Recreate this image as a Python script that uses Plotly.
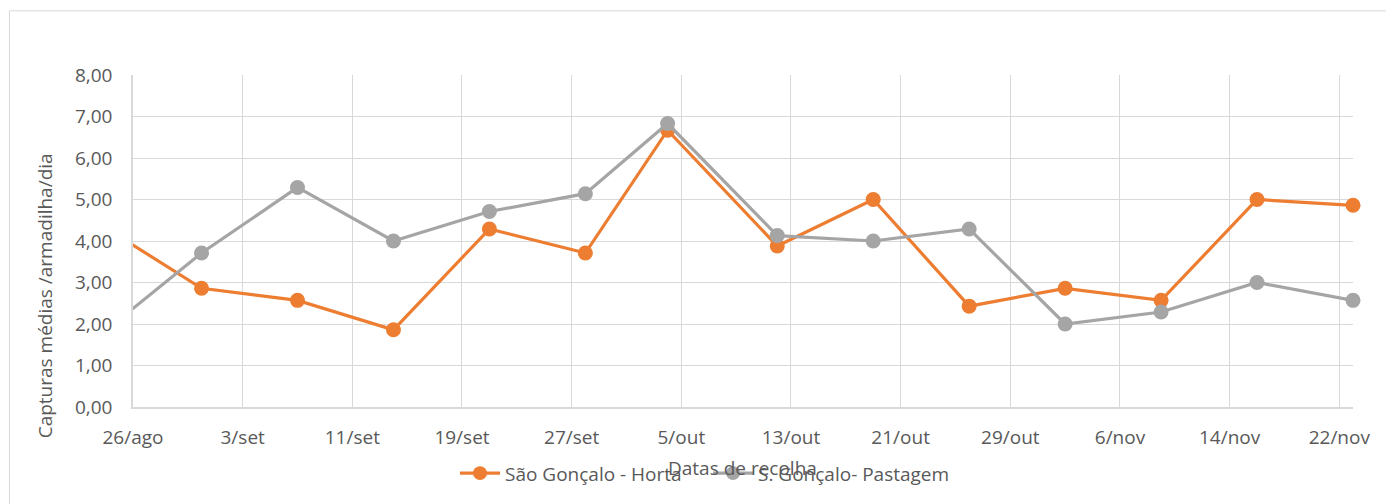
import plotly.graph_objects as go
import pandas as pd

# ---- data ----
dates = ["2023-08-24", "2023-08-31", "2023-09-07", "2023-09-14", "2023-09-21",
         "2023-09-28", "2023-10-04", "2023-10-12", "2023-10-19", "2023-10-26",
         "2023-11-02", "2023-11-09", "2023-11-16", "2023-11-23"]
horta = [4.32, 2.86, 2.57, 1.86, 4.29, 3.71, 6.67, 3.88, 5.00, 2.43, 2.86, 2.57, 5.00, 4.86]
pastagem = [1.84, 3.71, 5.29, 4.00, 4.71, 5.14, 6.83, 4.13, 4.00, 4.29, 2.00, 2.29, 3.00, 2.57]
series_names = ["São Gonçalo - Horta", "S. Gonçalo- Pastagem"]
tick_labels = ["26/ago", "3/set", "11/set", "19/set", "27/set", "5/out", "13/out",
               "21/out", "29/out", "6/nov", "14/nov", "22/nov"]
x_start, x_end = "2023-08-26", "2023-11-23"

# ---- style ----
ORANGE = "#ED7D31"
GRAY = "#A5A5A5"
TXT = "#595959"
GRID = "#D9D9D9"
FONT = "Open Sans"
MS = 15

tickvals = pd.date_range(x_start, periods=len(tick_labels), freq="8D")
sizes = [0 if pd.Timestamp(d) < pd.Timestamp(x_start) else MS for d in dates]

fig = go.Figure()
for name, vals, col in [(series_names[0], horta, ORANGE), (series_names[1], pastagem, GRAY)]:
    fig.add_trace(go.Scatter(
        x=dates, y=vals, name=name, mode="lines+markers",
        line=dict(color=col, width=3.2),
        marker=dict(color=col, size=sizes, opacity=1, line=dict(width=0)),
        cliponaxis=False,
    ))

# page body has an 8px margin -> figure is drawn 8px right/down
OFF = 8
W, H = 1394 - OFF, 504 - OFF
PL, PT = 133, 74.7          # plot-area left/top in page pixels
PW, PH = 1220, 332          # plot-area size
L, T = PL - OFF, PT - OFF
R = W - L - PW
B = H - T - PH

def px(xp):
    return (xp - PL) / PW

def py(yp):
    return (PT + PH - yp) / PH

fig.update_layout(
    width=W, height=H,
    margin=dict(l=L, r=R, t=T, b=B),
    paper_bgcolor="white", plot_bgcolor="white",
    separators=",.",
    font=dict(family=FONT, size=19, color=TXT),
    showlegend=True,
    legend=dict(orientation="h", x=px(455), xanchor="left", y=py(473), yanchor="middle",
                font=dict(family=FONT, size=19, color=TXT), bgcolor="rgba(0,0,0,0)",
                entrywidth=198, entrywidthmode="pixels", itemwidth=40),
    xaxis=dict(type="date", range=[x_start, x_end], tickvals=tickvals, ticktext=tick_labels,
               showgrid=True, gridcolor=GRID, gridwidth=1.3, showline=True, linecolor=GRID,
               linewidth=1.5, ticks="", ticklabelstandoff=12,
               tickfont=dict(family=FONT, size=19, color=TXT), zeroline=False),
    yaxis=dict(range=[0, 8], dtick=1, tick0=0, tickformat=".2f", showgrid=True,
               gridcolor=GRID, gridwidth=1.3, showline=True, linecolor=GRID, linewidth=1.5,
               ticks="", ticklabelstandoff=15, tickfont=dict(family=FONT, size=19, color=TXT),
               zeroline=False),
    annotations=[
        dict(text="Datas de recolha", xref="paper", yref="paper", x=px(742), y=py(468),
             xanchor="center", yanchor="middle", showarrow=False,
             font=dict(family=FONT, size=19, color=TXT)),
        dict(text="Capturas médias /armadilha/dia", xref="paper", yref="paper",
             x=px(45), y=py(296), xanchor="center", yanchor="middle", textangle=-90,
             showarrow=False, font=dict(family=FONT, size=19, color=TXT)),
    ],
    shapes=[dict(type="rect", xref="paper", yref="paper", x0=px(9.5), x1=px(1420),
                 y0=py(530), y1=py(10.5), line=dict(color=GRID, width=1), layer="below")],
)

fig.write_html("out.html")
